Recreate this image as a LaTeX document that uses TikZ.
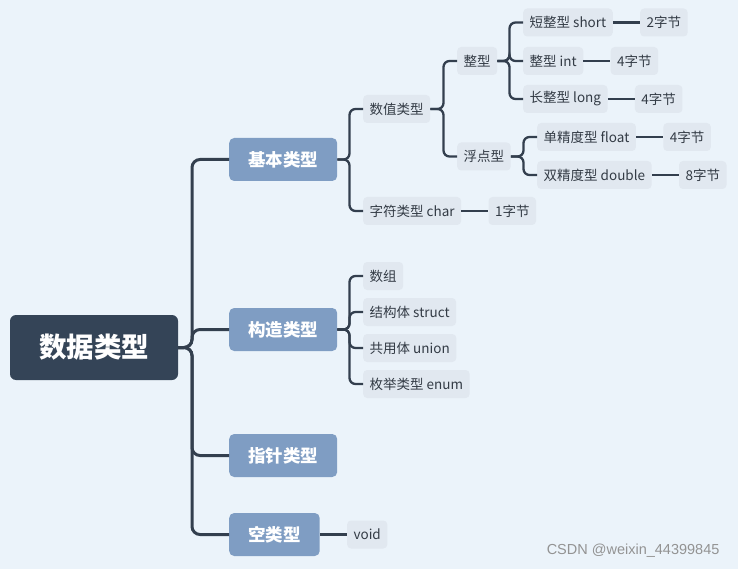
\documentclass[tikz,border=0pt]{standalone}
\usepackage{fontspec}
\setmainfont{Noto Sans CJK SC}
\newfontfamily\wmfont{Liberation Sans}
\usetikzlibrary{positioning}
\definecolor{bgc}{HTML}{EBF3FA}
\definecolor{rootc}{HTML}{344457}
\definecolor{lonec}{HTML}{7F9DC3}
\definecolor{leafc}{HTML}{E1E8F0}
\definecolor{linec}{HTML}{333F4E}
\definecolor{txtc}{HTML}{333B45}
\tikzset{
  rootbox/.style={rectangle,rounded corners=6,fill=rootc,text=white,minimum width=168,minimum height=65,font=\fontsize{27.5}{30}\selectfont\bfseries},
  lonebox/.style={rectangle,rounded corners=5,fill=lonec,text=white,minimum height=43,inner xsep=19,anchor=west,font=\fontsize{17.5}{20}\selectfont\bfseries},
  leafbox/.style={rectangle,rounded corners=4,fill=leafc,text=txtc,minimum height=28,inner xsep=6.5,inner ysep=0,anchor=west,font=\fontsize{13.5}{16}\selectfont},
  trunk/.style={draw=linec,line width=3,rounded corners=8},
  conn/.style={draw=linec,line width=2.3,rounded corners=6},
}
\begin{document}
\begin{tikzpicture}[x=1pt,y=-1pt]
\fill[bgc] (0,0) rectangle (738,569);
\useasboundingbox (0,0) rectangle (738,569);
% root and level 1
\node[rootbox] (root) at (94,347.5) {数据类型};
\node[lonebox] (jb) at (229,159.5) {基本类型};
\node[lonebox] (gz) at (229,329.5) {构造类型};
\node[lonebox] (zz) at (229,455.5) {指针类型};
\node[lonebox] (kl) at (229,534.5) {空类型};
\coordinate (tx) at (192,347.5);
\foreach \c in {jb,gz,zz,kl}{\draw[trunk] (root.east) -| (tx |- \c.west) -- (\c.west);}
% basic types
\node[leafbox] (szlx) at (363,109) {数值类型};
\node[leafbox] (zflx) at (363,211) {字符类型 char};
\node[leafbox,right=27pt of zflx] (b1) {1字节};
\coordinate (bx1) at (349.5,0);
\foreach \c in {szlx,zflx}{\draw[conn] (jb.east) -| (bx1 |- \c.west) -- (\c.west);}
\node[leafbox] (zx) at (457,61) {整型};
\node[leafbox] (fdx) at (457,156.5) {浮点型};
\coordinate (bx2) at (443.5,0);
\foreach \c in {zx,fdx}{\draw[conn] (szlx.east) -| (bx2 |- \c.west) -- (\c.west);}
\node[leafbox] (dzx) at (523,22.5) {短整型 short};
\node[leafbox] (zxint) at (523,61) {整型 int};
\node[leafbox] (czx) at (523,99) {长整型 long};
\coordinate (bx3) at (509.5,0);
\foreach \c in {dzx,zxint,czx}{\draw[conn] (zx.east) -| (bx3 |- \c.west) -- (\c.west);}
\node[leafbox] (dj) at (537,137) {单精度型 float};
\node[leafbox] (sj) at (537,175) {双精度型 double};
\coordinate (bx4) at (523.5,0);
\foreach \c in {dj,sj}{\draw[conn] (fdx.east) -| (bx4 |- \c.west) -- (\c.west);}
\node[leafbox,right=27pt of dzx] (b2) {2字节};
\node[leafbox,right=27pt of zxint] (b4a) {4字节};
\node[leafbox,right=27pt of czx] (b4b) {4字节};
\node[leafbox,right=27pt of dj] (b4c) {4字节};
\node[leafbox,right=27pt of sj] (b8) {8字节};
\foreach \a/\b in {zflx/b1,dzx/b2,zxint/b4a,czx/b4b,dj/b4c,sj/b8}{\draw[conn] (\a.east) -- (\b.west);}
% constructed types
\node[leafbox] (sz) at (363,276) {数组};
\node[leafbox] (jgt) at (363,312) {结构体 struct};
\node[leafbox] (gyt) at (363,348) {共用体 union};
\node[leafbox] (mj) at (363,384) {枚举类型 enum};
\foreach \c in {sz,jgt,gyt,mj}{\draw[conn] (gz.east) -| (bx1 |- \c.west) -- (\c.west);}
% void
\node[leafbox,right=27pt of kl] (vd) {void};
\draw[conn] (kl.east) -- (vd.west);
% watermark
\node[anchor=east,text=gray!85,font=\wmfont\fontsize{14.5}{16}\selectfont] (wm) at (723,551) {CSDN @weixin\_44399845};
\end{tikzpicture}
\end{document}
